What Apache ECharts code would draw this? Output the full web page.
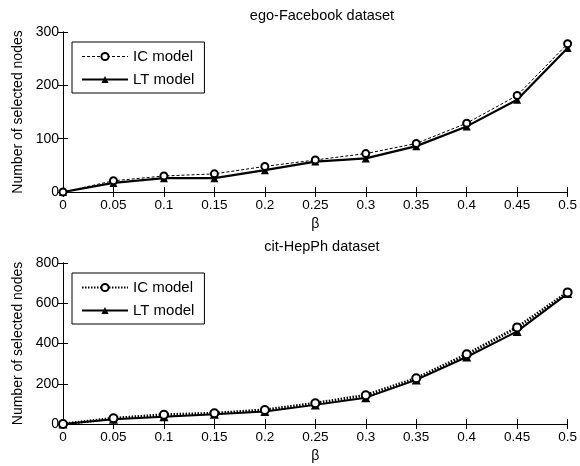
<!DOCTYPE html>
<html><head><meta charset="utf-8">
<script src="https://cdn.jsdelivr.net/npm/echarts@6/dist/echarts.min.js"></script>
<style>html,body{margin:0;padding:0;background:#fff}#c{width:580px;height:466px}</style>
</head><body><div id="c"></div>
<script>
const betas = [0, 0.05, 0.1, 0.15, 0.2, 0.25, 0.3, 0.35, 0.4, 0.45, 0.5];
const fbIC = [0, 21, 30, 34, 48, 60, 72, 91, 129, 181, 278];
const fbLT = [0, 17, 26, 26, 41, 57, 63, 86, 123, 173, 270];
const hepIC = [0, 28, 46, 53, 70, 103, 143, 227, 346, 480, 654];
const hepLT = [0, 24, 36, 49, 62, 95, 131, 219, 333, 460, 648];
const titles = ['ego-Facebook dataset', 'cit-HepPh dataset'];
const yMax = [300, 800];
const yStep = [100, 200];
const seriesNames = ['IC model', 'LT model'];

const font = 'Liberation Sans, Arial, sans-serif';
const chart = echarts.init(document.getElementById('c'));
const grids = [
  {left: 63, right: 8, top: 32, height: 160},
  {left: 63, right: 8, top: 263, height: 161}
];
const fmtX = v => String(+v.toFixed(2));
const xAxes = [], yAxes = [];
[0, 1].forEach(g => {
  xAxes.push({type: 'value', gridIndex: g, min: 0, max: 0.5, interval: 0.05,
    name: 'β', nameLocation: 'middle', nameGap: 25,
    nameTextStyle: {fontFamily: font, fontSize: 14, color: '#000'},
    axisLine: {lineStyle: {color: '#000', width: 1}},
    axisTick: {inside: true, length: 5, lineStyle: {color: '#000'}},
    axisLabel: {formatter: fmtX, fontFamily: font, fontSize: 13.5, color: '#000', margin: 6},
    splitLine: {show: false}});
  xAxes.push({type: 'value', gridIndex: g, position: 'top', min: 0, max: 0.5, interval: 0.05,
    axisLine: {lineStyle: {color: '#000', width: 1}},
    axisTick: {inside: true, length: 5, lineStyle: {color: '#000'}},
    axisLabel: {show: false}, splitLine: {show: false}});
  yAxes.push({type: 'value', gridIndex: g, min: 0, max: yMax[g], interval: yStep[g],
    name: 'Number of selected nodes', nameLocation: 'middle', nameGap: 38,
    nameTextStyle: {fontFamily: font, fontSize: 14, color: '#000'},
    axisLine: {show: true, lineStyle: {color: '#000', width: 1}},
    axisTick: {show: true, inside: true, length: 5, lineStyle: {color: '#000'}},
    axisLabel: {fontFamily: font, fontSize: 14, color: '#000', margin: 4},
    splitLine: {show: false}});
  yAxes.push({type: 'value', gridIndex: g, position: 'right', min: 0, max: yMax[g], interval: yStep[g],
    axisLine: {show: true, lineStyle: {color: '#000', width: 1}},
    axisTick: {show: true, inside: true, length: 5, lineStyle: {color: '#000'}},
    axisLabel: {show: false}, splitLine: {show: false}});
});
const pairs = (ys) => betas.map((b, i) => [b, ys[i]]);
// bottom-panel series carry a trailing space so each legend shows its own panel's styles
const botNames = seriesNames.map(n => n + ' ');
const series = [
  {name: seriesNames[1], type: 'line', xAxisIndex: 0, yAxisIndex: 0, data: pairs(fbLT),
   symbol: 'triangle', symbolSize: 8, color: '#000', z: 2,
   lineStyle: {color: '#000', width: 2.2}, itemStyle: {color: '#000'}},
  {name: seriesNames[0], type: 'line', xAxisIndex: 0, yAxisIndex: 0, data: pairs(fbIC),
   symbol: 'emptyCircle', symbolSize: 7, color: '#000', z: 3,
   lineStyle: {color: '#000', width: 1, type: [3, 2]},
   itemStyle: {color: '#000', borderWidth: 1}},
  {name: botNames[1], type: 'line', xAxisIndex: 2, yAxisIndex: 2, data: pairs(hepLT),
   symbol: 'triangle', symbolSize: 9, color: '#000', z: 2,
   lineStyle: {color: '#000', width: 2}, itemStyle: {color: '#000'}},
  {name: botNames[0], type: 'line', xAxisIndex: 2, yAxisIndex: 2, data: pairs(hepIC),
   symbol: 'emptyCircle', symbolSize: 8, color: '#000', z: 3,
   lineStyle: {color: '#000', width: 3, type: [1.5, 1.5]},
   itemStyle: {color: '#000', borderWidth: 3}}
];
const legendCommon = {orient: 'vertical', left: 72, itemWidth: 46, itemHeight: 9, itemGap: 8,
  borderColor: '#000', borderWidth: 1, padding: [7, 10, 6, 9], backgroundColor: '#fff',
  textStyle: {fontFamily: font, fontSize: 15, color: '#000'}, selectedMode: false,
  formatter: n => n.trim()};
chart.setOption({
  animation: false,
  title: [
    {text: titles[0], left: 317, top: 3, textAlign: 'center', textStyle: {fontFamily: font, fontSize: 14.5, fontWeight: 'normal', color: '#000'}},
    {text: titles[1], left: 317, top: 234, textAlign: 'center', textStyle: {fontFamily: font, fontSize: 14.5, fontWeight: 'normal', color: '#000'}}
  ],
  grid: grids,
  xAxis: xAxes,
  yAxis: yAxes,
  legend: [
    Object.assign({}, legendCommon, {top: 42, data: [
      {name: seriesNames[0], lineStyle: {width: 1, type: [3, 2]}, itemStyle: {borderWidth: 1}},
      {name: seriesNames[1]}]}),
    Object.assign({}, legendCommon, {top: 273, data: botNames})
  ],
  series: series
});
</script></body></html>
